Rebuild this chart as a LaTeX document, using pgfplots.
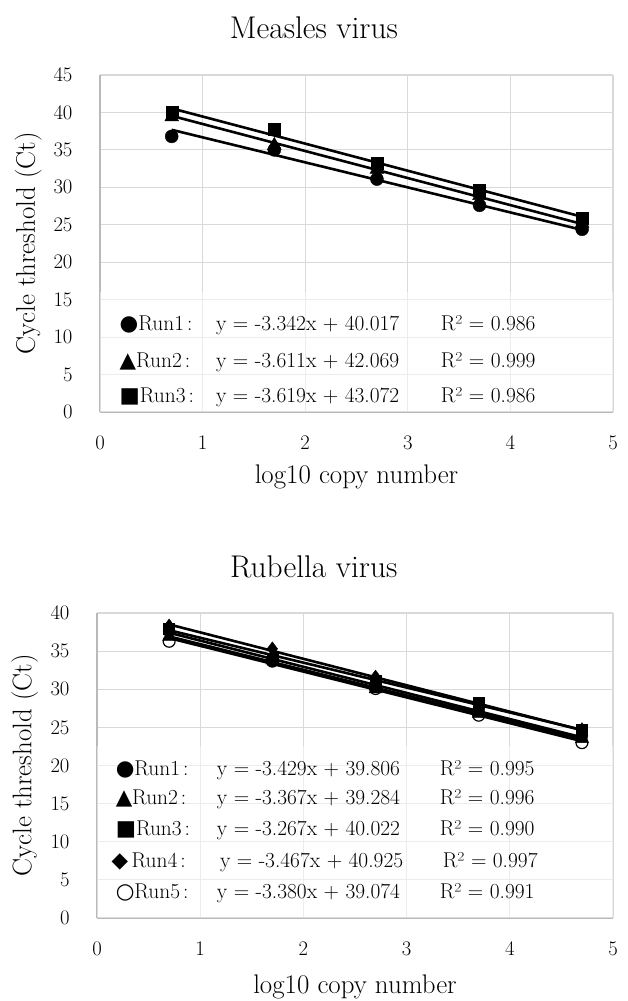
\documentclass[border=0pt]{standalone}
\usepackage{pgfplots}
\pgfplotsset{compat=1.18}
\usepackage{fontspec}
\newfontfamily\sym{DejaVu Sans}
\pgfplotsset{
  myax/.style={
    scale only axis,
    xmin=0, xmax=5, xtick={0,1,2,3,4,5}, ymin=0, ytick distance=5,
    grid=major,
    grid style={draw=gray!30, line width=1.2bp},
    axis x line*=bottom, axis y line*=left,
    axis line style={draw=gray!55, line width=1.3bp, -},
    major tick length=0pt,
    tick label style={font=\fontsize{22}{26}\selectfont},
    xticklabel style={yshift=-21bp},
    yticklabel style={xshift=-24bp},
    title style={font=\fontsize{31.5}{38}\selectfont, anchor=base},
    xlabel={log10 copy number},
    ylabel={Cycle threshold (Ct)},
    every axis y label/.style={at={(axis description cs:-0.14,0.5)}, rotate=90, anchor=center, font=\fontsize{27}{32}\selectfont},
    clip=false,
  },
  trend/.style={black, line width=2.6bp, no marks},
  pts/.style={only marks, black},
}
\newcommand\tf{\fontsize{21.5}{26}\selectfont}
\newcommand\cl{\kern3bp:\kern5bp}
\begin{document}
\begin{tikzpicture}
\useasboundingbox (0,0) rectangle (628bp,1001bp);
% ---------------- Measles ----------------
\begin{axis}[myax,
  at={(100bp,589bp)}, anchor=south west,
  width=513bp, height=337bp,
  ymax=45,
  title={Measles virus},
  title style={at={(axis description cs:0.417,1.09)}},
  every axis x label/.style={at={(axis description cs:0.5,-0.2136)}, anchor=base, font=\fontsize{27}{32}\selectfont},
]
\fill[white, opacity=0.5] (axis cs:0,0) rectangle (axis cs:5,16);
% Run1
\addplot[trend] coordinates {(0.699,37.681) (4.699,24.313)};
\addplot[pts, mark=*, mark size=6.5bp] coordinates {(0.699,36.8) (1.699,35.0) (2.699,31.1) (3.699,27.6) (4.699,24.4)};
% Run2
\addplot[trend] coordinates {(0.699,39.545) (4.699,25.101)};
\addplot[pts, mark=triangle*, mark size=8bp] coordinates {(0.699,39.4) (1.699,35.6) (2.699,32.4) (3.699,28.9) (4.699,25.2)};
% Run3
\addplot[trend] coordinates {(0.699,40.542) (4.699,26.066)};
\addplot[pts, mark=square*, mark size=6bp] coordinates {(0.699,40.0) (1.699,37.8) (2.699,33.2) (3.699,29.6) (4.699,25.9)};
% legend table
\node[anchor=base west, inner sep=0, font=\tf] at (axis cs:0.19,10.9) {{\sym ●}Run1\cl};
\node[anchor=base west, inner sep=0, font=\tf] at (axis cs:1.13,10.9) {y = -3.342x + 40.017};
\node[anchor=base west, inner sep=0, font=\tf] at (axis cs:3.32,10.9) {R² = 0.986};
\node[anchor=base west, inner sep=0, font=\tf] at (axis cs:0.19,6.0) {{\sym ▲}Run2\cl};
\node[anchor=base west, inner sep=0, font=\tf] at (axis cs:1.13,6.0) {y = -3.611x + 42.069};
\node[anchor=base west, inner sep=0, font=\tf] at (axis cs:3.32,6.0) {R² = 0.999};
\node[anchor=base west, inner sep=0, font=\tf] at (axis cs:0.19,1.3) {{\sym ■}Run3\cl};
\node[anchor=base west, inner sep=0, font=\tf] at (axis cs:1.13,1.3) {y = -3.619x + 43.072};
\node[anchor=base west, inner sep=0, font=\tf] at (axis cs:3.32,1.3) {R² = 0.986};
\end{axis}
% ---------------- Rubella ----------------
\begin{axis}[myax,
  at={(97bp,83bp)}, anchor=south west,
  width=516bp, height=305bp,
  ymax=40,
  title={Rubella virus},
  title style={at={(axis description cs:0.42,1.097)}},
  every axis x label/.style={at={(axis description cs:0.5,-0.246)}, anchor=base, font=\fontsize{27}{32}\selectfont},
]
\fill[white, opacity=0.5] (axis cs:0,0) rectangle (axis cs:5,22.5);
% Run1
\addplot[trend] coordinates {(0.699,37.409) (4.699,23.693)};
\addplot[pts, mark=*, mark size=6bp] coordinates {(0.699,37.6) (1.699,33.7) (2.699,30.3) (3.699,27.2) (4.699,23.9)};
% Run2
\addplot[trend] coordinates {(0.699,36.930) (4.699,23.462)};
\addplot[pts, mark=triangle*, mark size=7.5bp] coordinates {(0.699,36.9) (1.699,33.8) (2.699,30.0) (3.699,26.8) (4.699,23.5)};
% Run3
\addplot[trend] coordinates {(0.699,37.738) (4.699,24.670)};
\addplot[pts, mark=square*, mark size=5.5bp] coordinates {(0.699,37.9) (1.699,34.0) (2.699,31.1) (3.699,28.3) (4.699,24.7)};
% Run4
\addplot[trend] coordinates {(0.699,38.502) (4.699,24.634)};
\addplot[pts, mark=diamond*, mark size=7bp] coordinates {(0.699,38.3) (1.699,35.3) (2.699,31.6) (3.699,27.9) (4.699,24.7)};
% Run5
\addplot[trend] coordinates {(0.699,36.711) (4.699,23.191)};
\addplot[only marks, mark=o, mark size=6bp, mark options={draw=black, fill=white, line width=1.2bp}] coordinates {(0.699,36.3) (1.699,33.7) (2.699,30.1) (3.699,26.6) (4.699,23.0)};
% legend table
\node[anchor=base west, inner sep=0, font=\tf] at (axis cs:0.18,18.7) {{\sym ●}Run1\cl};
\node[anchor=base west, inner sep=0, font=\tf] at (axis cs:1.16,18.7) {y = -3.429x + 39.806};
\node[anchor=base west, inner sep=0, font=\tf] at (axis cs:3.32,18.7) {R² = 0.995};
\node[anchor=base west, inner sep=0, font=\tf] at (axis cs:0.18,14.9) {{\sym ▲}Run2\cl};
\node[anchor=base west, inner sep=0, font=\tf] at (axis cs:1.16,14.9) {y = -3.367x + 39.284};
\node[anchor=base west, inner sep=0, font=\tf] at (axis cs:3.32,14.9) {R² = 0.996};
\node[anchor=base west, inner sep=0, font=\tf] at (axis cs:0.18,10.8) {{\sym ■}Run3\cl};
\node[anchor=base west, inner sep=0, font=\tf] at (axis cs:1.16,10.8) {y = -3.267x + 40.022};
\node[anchor=base west, inner sep=0, font=\tf] at (axis cs:3.32,10.8) {R² = 0.990};
\node[anchor=base west, inner sep=0, font=\tf] at (axis cs:0.14,6.6) {{\sym ◆}\,Run4\cl};
\node[anchor=base west, inner sep=0, font=\tf] at (axis cs:1.19,6.6) {y = -3.467x + 40.925};
\node[anchor=base west, inner sep=0, font=\tf] at (axis cs:3.35,6.6) {R² = 0.997};
\node[anchor=base west, inner sep=0, font=\tf] at (axis cs:0.18,2.6) {{\sym ○}Run5\cl};
\node[anchor=base west, inner sep=0, font=\tf] at (axis cs:1.16,2.6) {y = -3.380x + 39.074};
\node[anchor=base west, inner sep=0, font=\tf] at (axis cs:3.32,2.6) {R² = 0.991};
\end{axis}
\end{tikzpicture}
\end{document}
